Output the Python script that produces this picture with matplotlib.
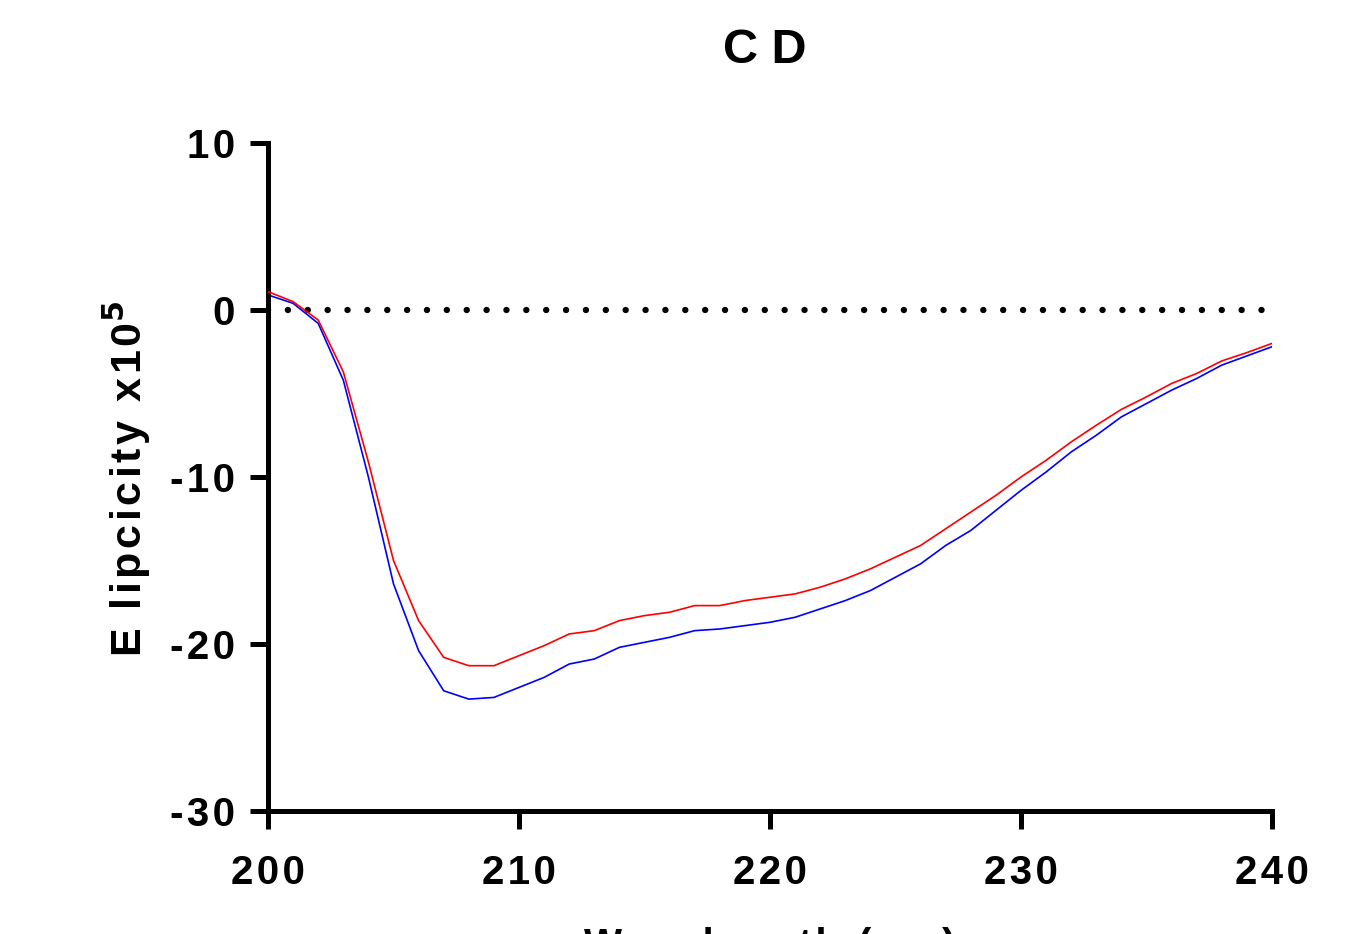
import matplotlib
matplotlib.use("Agg")
import matplotlib.pyplot as plt

plt.rcParams['font.family'] = ['Liberation Sans', 'DejaVu Sans']
plt.rcParams['font.weight'] = 'bold'

# wavelength (nm)
wavelength = list(range(200, 241))
# two CD spectra, ellipticity x10^5
red_vals = [1.1, 0.5, -0.6, -3.7, -9.1, -15.0, -18.6, -20.8, -21.3, -21.3,
            -20.7, -20.1, -19.4, -19.2, -18.6, -18.3, -18.1, -17.7, -17.7, -17.4,
            -17.2, -17.0, -16.6, -16.1, -15.5, -14.8, -14.1, -13.1, -12.1, -11.1,
            -10.0, -9.0, -7.9, -6.9, -5.95, -5.2, -4.4, -3.8, -3.05, -2.55, -2.0]
blue_vals = [0.9, 0.4, -0.8, -4.2, -10.0, -16.4, -20.4, -22.8, -23.3, -23.2,
             -22.6, -22.0, -21.2, -20.9, -20.2, -19.9, -19.6, -19.2, -19.1, -18.9,
             -18.7, -18.4, -17.9, -17.4, -16.8, -16.0, -15.2, -14.1, -13.2, -12.0,
             -10.8, -9.7, -8.5, -7.5, -6.4, -5.6, -4.8, -4.1, -3.3, -2.75, -2.2]

xticks = [200, 210, 220, 230, 240]
yticks = [10, 0, -10, -20, -30]


def spaced(s, sep='\u200a'):
    # wide letter spacing like the original (Prism style)
    return sep.join(s)


W, H = 1356, 934
fig = plt.figure(figsize=(W / 100, H / 100), dpi=100)
ax = fig.add_axes([268 / W, 1 - 811 / H, (1272 - 268) / W, (811 - 143) / H])

# zero line, round dots
ax.plot([200, 240], [0, 0], color='black', linewidth=4.6,
        linestyle=(0, (0.01, 3.1)), dash_capstyle='round', zorder=1)

ax.plot(wavelength, red_vals, color='#ff0000', linewidth=1.2, zorder=3)
ax.plot(wavelength, blue_vals, color='#0000ff', linewidth=1.2, zorder=2)

ax.set_xlim(200, 240)
ax.set_ylim(-30, 10)
ax.set_xticks(xticks)
ax.set_yticks(yticks)
ax.set_xticklabels([spaced(str(t)) for t in xticks], fontsize=29, fontweight='bold')
ax.set_yticklabels([spaced(str(t)) for t in yticks], fontsize=29, fontweight='bold')

for side in ['top', 'right']:
    ax.spines[side].set_visible(False)
for side in ['left', 'bottom']:
    ax.spines[side].set_linewidth(3.6)
    ax.spines[side].set_capstyle('projecting')

ax.tick_params(axis='both', direction='out', length=13, width=3.6)
ax.tick_params(axis='x', pad=18)
ax.tick_params(axis='y', pad=11)

fig.text(765 / W, 1 - 63 / H, 'C D', ha='center',
         va='baseline', fontsize=35, fontweight='bold')
fig.text(127 / W, 1 - 479 / H,
         spaced('E lipcicity x10') + r'$^{\mathbf{5}}$',
         rotation=90, ha='center', va='center', fontsize=31, fontweight='bold')
fig.text(770 / W, 1 - 927 / H, spaced('Wavelength (nm)'), ha='center',
         va='top', fontsize=29, fontweight='bold')

fig.savefig('out.png', dpi=100)
